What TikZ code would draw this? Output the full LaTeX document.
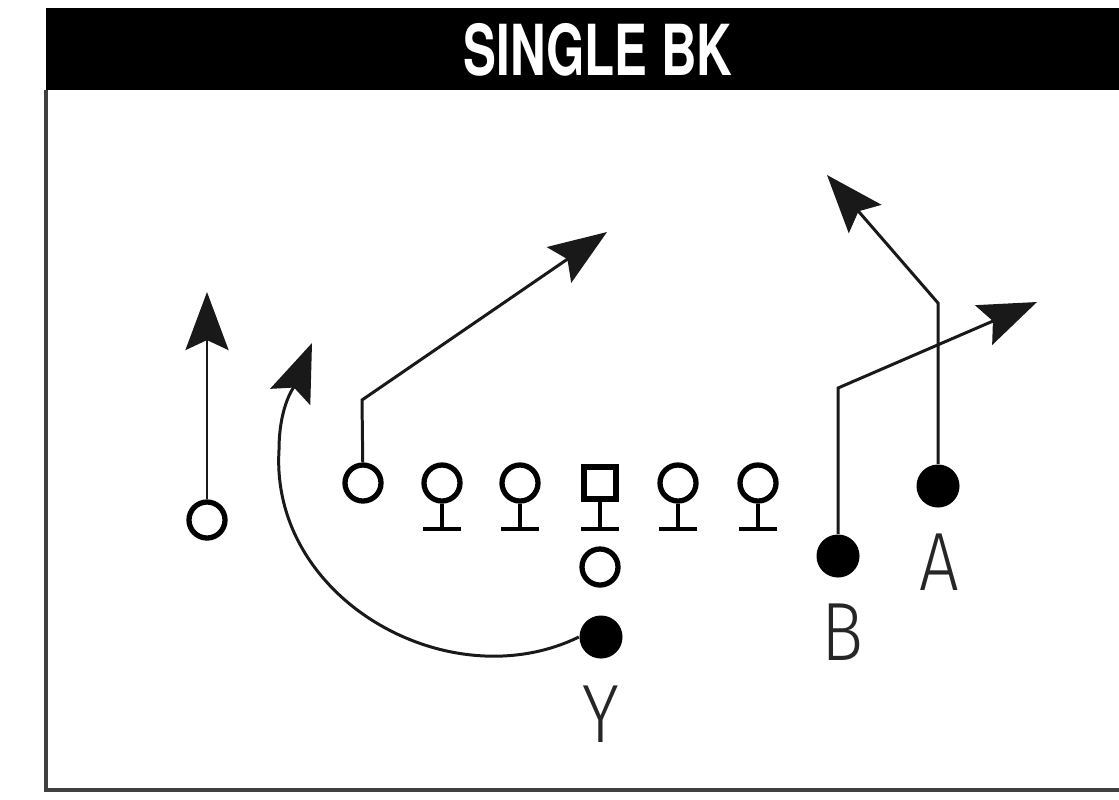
\documentclass[tikz,border=0pt]{standalone}
\usepackage{fontspec}
\setmainfont{Liberation Sans}
\newfontfamily\titlefont{TeX Gyre Heros}
\newfontfamily\labfont{Fira Sans}[UprightFont=* Light]
\usetikzlibrary{arrows.meta}
\begin{document}
\begin{tikzpicture}[x=0.01cm,y=-0.01cm,
  route/.style={line width=0.85pt, draw=black!90},
  tip/.style={-{Stealth[length=0.58cm,width=0.43cm,inset=0.1cm]}},
  openp/.style={circle, draw, line width=1.5pt, minimum size=0.36cm, inner sep=0pt},
  fillp/.style={circle, fill=black, minimum size=0.43cm, inner sep=0pt},
  centerp/.style={rectangle, draw, line width=1.5pt, minimum size=0.32cm, inner sep=0pt},
  stem/.style={line width=1.4pt},
  lab/.style={font=\labfont\fontsize{23.5}{24}\selectfont, anchor=base, inner sep=0pt, xscale=0.85, text=black!85}]
\useasboundingbox (0,0) rectangle (1119,799);
% frame
\fill[black] (46,8) rectangle (1119,90);
\draw[line width=1pt, black!75] (46,90) -- (46,790) -- (1119,790);
\node[anchor=base, text=white, inner sep=0pt] (title) at (598,75)
  {\scalebox{0.7}[1]{\titlefont\bfseries\fontsize{20}{21}\selectfont SINGLE BK}};
% players
\node[openp] (wr) at (207,520) {};
\node[openp] (te) at (363,483) {};
\foreach \n/\x in {lt/442, lg/520, rg/678, rt/758}{
  \node[openp] (\n) at (\x,483) {};
  \coordinate (\n b) at (\x,529);
  \draw[stem] (\n) -- (\n b);
  \draw[stem] ([xshift=-0.19cm]\n b) -- ([xshift=0.19cm]\n b);
}
\node[centerp] (c) at (600,483) {};
\coordinate (cb) at (600,529);
\draw[stem] (c) -- (cb);
\draw[stem] ([xshift=-0.19cm]cb) -- ([xshift=0.19cm]cb);
\node[openp] (qb) at (600,567) {};
\node[fillp] (Y) at (601,637) {};
\node[fillp] (B) at (838,556) {};
\node[fillp] (A) at (938,486) {};
% labels
\node[lab] (la) at (939,590) {A};
\node[lab] (lb) at (842,660) {B};
\node[lab] (ly) at (601,742) {Y};
% routes
\coordinate (wrend) at (207,292);
\draw[route,tip] (wr) -- (wrend);
\coordinate (tec) at (362,400);
\coordinate (teend) at (607,232);
\draw[route,tip] (te) -- (tec) -- (teend);
\coordinate (bc) at (838,388);
\coordinate (bend) at (1037,302);
\draw[route,tip] (B) -- (bc) -- (bend);
\coordinate (ac) at (938,303);
\coordinate (aend) at (827,175);
\draw[route,tip] (A) -- (ac) -- (aend);
\coordinate (ym) at (279,450);
\coordinate (yend) at (312,343);
\draw[route,tip] (Y.west) .. controls (450,700) and (270,600) .. (ym)
  .. controls (279,405) and (295,385) .. (yend);
\end{tikzpicture}
\end{document}
